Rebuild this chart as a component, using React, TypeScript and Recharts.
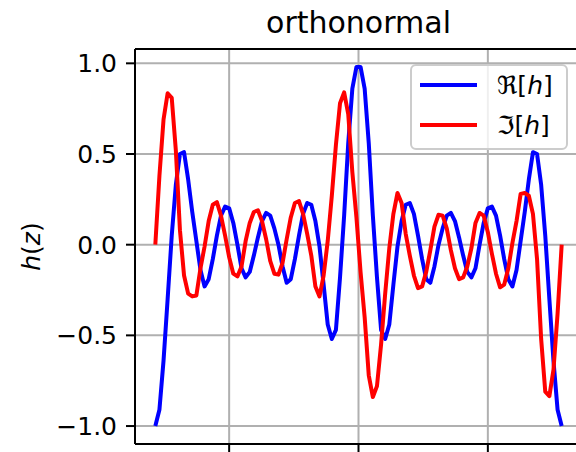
import { LineChart, Line, XAxis, YAxis, CartesianGrid, ReferenceLine } from 'recharts';

// sample grid: z runs over [-pi, pi]
const Z_START = -Math.PI;
const Z_END = Math.PI;

const reH = [
  -1.0, -0.91, -0.64, -0.3, 0.05, 0.33, 0.5, 0.51, 0.36, 0.18,
  0.02, -0.14, -0.23, -0.19, -0.08, 0.05, 0.16, 0.21, 0.2, 0.12,
  0.0, -0.13, -0.18, -0.15, -0.06, 0.04, 0.13, 0.175, 0.16, 0.09,
  0.0, -0.12, -0.21, -0.19, -0.08, 0.05, 0.17, 0.23, 0.22, 0.13,
  -0.01, -0.22, -0.44, -0.52, -0.47, -0.18, 0.16, 0.56, 0.86, 0.98,
  0.98, 0.86, 0.56, 0.16, -0.18, -0.47, -0.52, -0.44, -0.22, -0.01,
  0.13, 0.22, 0.23, 0.17, 0.05, -0.08, -0.19, -0.21, -0.12, 0.0,
  0.09, 0.16, 0.175, 0.13, 0.04, -0.06, -0.15, -0.18, -0.13, 0.0,
  0.12, 0.2, 0.21, 0.16, 0.05, -0.08, -0.19, -0.23, -0.14, 0.02,
  0.18, 0.36, 0.51, 0.5, 0.33, 0.05, -0.3, -0.64, -0.91, -1.0,
];

// imaginary part (red)
const imH = [
  0.0, 0.38, 0.69, 0.835, 0.81, 0.52, 0.08, -0.17, -0.27, -0.285,
  -0.28, -0.13, -0.01, 0.13, 0.22, 0.235, 0.16, 0.05, -0.07, -0.16,
  -0.175, -0.12, 0.02, 0.12, 0.18, 0.19, 0.13, 0.03, -0.09, -0.16,
  -0.165, -0.1, 0.03, 0.15, 0.23, 0.24, 0.17, 0.06, -0.06, -0.23,
  -0.285, -0.17, 0.02, 0.27, 0.55, 0.78, 0.84, 0.72, 0.4, 0.15,
  -0.15, -0.4, -0.72, -0.84, -0.78, -0.55, -0.27, -0.02, 0.17, 0.285,
  0.23, 0.06, -0.06, -0.17, -0.24, -0.23, -0.15, -0.03, 0.1, 0.165,
  0.16, 0.09, -0.03, -0.13, -0.19, -0.18, -0.12, -0.02, 0.12, 0.175,
  0.16, 0.07, -0.05, -0.16, -0.235, -0.22, -0.13, 0.01, 0.13, 0.28,
  0.285, 0.27, 0.17, -0.08, -0.52, -0.81, -0.835, -0.69, -0.38, 0.0,
];

const xTicks = [-2, 0, 2];
const yTicks = [-1, -0.5, 0, 0.5, 1];

const data = reH.map((re, i) => ({
  z: Z_START + (i * (Z_END - Z_START)) / (reH.length - 1),
  re,
  im: imH[i],
}));

// matplotlib-style 5% margins
const xPad = 0.05 * (Z_END - Z_START);
const lo = Math.min(...reH, ...imH);
const hi = Math.max(...reH, ...imH);
const yPad = 0.05 * (hi - lo);
const yLo = lo - yPad;
const yHi = hi + yPad;

const FONT = '"DejaVu Sans", sans-serif';

function LegendBox() {
  const rows = [
    { color: '#0000ff', sym: '\u211C' },
    { color: '#ff0000', sym: '\u2111' },
  ];
  return (
    <svg width={158} height={86} style={{ position: 'absolute', left: 410, top: 64 }}>
      <rect x={1} y={1} width={156} height={84} rx={5} fill="#fff" fillOpacity={0.8} stroke="#cccccc" strokeWidth={2} />
      {rows.map((r, i) => (
        <g key={i}>
          <line x1={10} x2={67} y1={21 + i * 40} y2={21 + i * 40} stroke={r.color} strokeWidth={4} />
          <text x={87} y={30 + i * 40} fontSize={25} fontFamily={FONT} fill="#000">
            {r.sym}[<tspan fontStyle="italic">h</tspan>]
          </text>
        </g>
      ))}
    </svg>
  );
}

export default function App() {
  return (
    <div style={{ position: 'fixed', left: 0, top: 0, width: 576, height: 452, overflow: 'hidden', background: '#fff' }}>
      <LineChart width={590} height={452} data={data} margin={{ top: 49, right: 8, bottom: 0, left: 0 }}>
        <CartesianGrid stroke="#b0b0b0" strokeWidth={2} />
        <XAxis
          dataKey="z"
          type="number"
          domain={[-Math.PI - xPad, Math.PI + xPad]}
          ticks={xTicks}
          interval={0}
          height={8}
          tickSize={9}
          tick={() => <g />}
          axisLine={{ stroke: '#000', strokeWidth: 2 }}
          tickLine={{ stroke: '#000', strokeWidth: 2 }}
          allowDataOverflow
        />
        <YAxis
          type="number"
          domain={[yLo, yHi]}
          ticks={yTicks}
          interval={0}
          width={135}
          tickSize={9}
          tickMargin={9}
          tick={{ fontSize: 25, fill: '#000', fontFamily: FONT }}
          tickFormatter={(v: number) => v.toFixed(1).replace('-', '\u2212')}
          axisLine={{ stroke: '#000', strokeWidth: 2 }}
          tickLine={{ stroke: '#000', strokeWidth: 2 }}
          allowDataOverflow
        />
        <ReferenceLine y={yHi} stroke="#000" strokeWidth={2} />
        <Line type="linear" dataKey="re" stroke="#0000ff" strokeWidth={4} strokeLinejoin="round" dot={false} activeDot={false} isAnimationActive={false} />
        <Line type="linear" dataKey="im" stroke="#ff0000" strokeWidth={4} strokeLinejoin="round" dot={false} activeDot={false} isAnimationActive={false} />
      </LineChart>
      <svg width={576} height={452} style={{ position: 'absolute', left: 0, top: 0, pointerEvents: 'none' }}>
        <text x={358.5} y={33} textAnchor="middle" fontSize={30} fontFamily={FONT} fill="#000">orthonormal</text>
        <text x={40} y={246.5} transform="rotate(-90 40 246.5)" textAnchor="middle" fontSize={25} fontFamily={FONT} fill="#000">
          <tspan fontStyle="italic">h</tspan>(<tspan fontStyle="italic">z</tspan>)
        </text>
      </svg>
      <LegendBox />
    </div>
  );
}
